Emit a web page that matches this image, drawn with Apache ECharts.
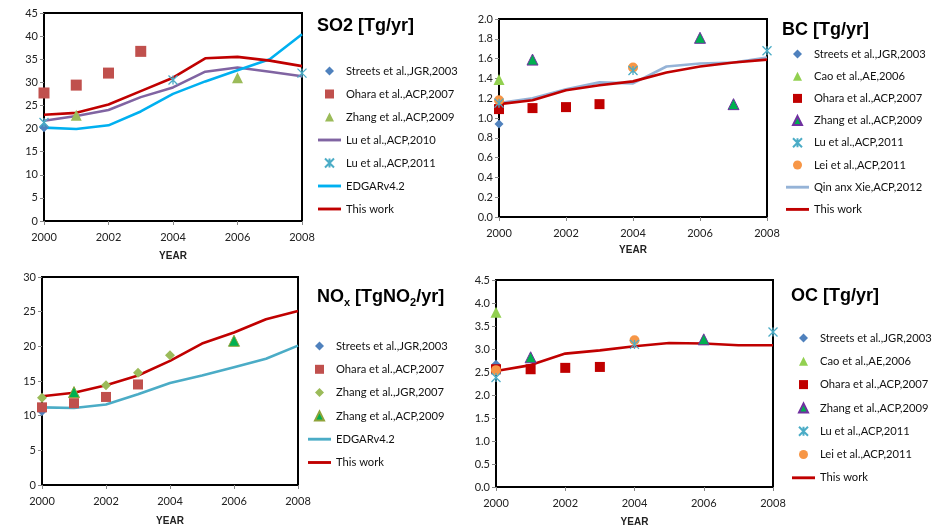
<!DOCTYPE html>
<html><head><meta charset="utf-8">
<script src="https://cdn.jsdelivr.net/npm/echarts@6/dist/echarts.min.js"></script>
<style>html,body{margin:0;padding:0;background:#fff}#c{width:937px;height:528px}</style>
</head><body><div id="c"></div>
<script>
// ---------- data ----------
const years = [2000, 2001, 2002, 2003, 2004, 2005, 2006, 2007, 2008];
const xTicks = [2000, 2002, 2004, 2006, 2008];

// SO2 [Tg/yr]
const so2Streets  = [20.3, null, null, null, null, null, null, null, null];
const so2Ohara    = [27.7, 29.4, 32.0, 36.7, null, null, null, null, null];
const so2Zhang    = [null, 22.9, null, null, null, null, 31.0, null, null];
const so2Lu2010   = [21.7, 22.7, 24.0, 26.8, 28.9, 32.3, 33.2, 32.3, 31.3];
const so2Lu2011   = [21.3, null, null, null, 30.5, null, null, null, 32.0];
const so2Edgar    = [20.2, 19.9, 20.7, 23.7, 27.5, 30.2, 32.6, 35.0, 40.4];
const so2ThisWork = [23.0, 23.4, 25.2, 28.1, 31.0, 35.2, 35.5, 34.7, 33.5];

// BC [Tg/yr]
const bcStreets  = [0.94, null, null, null, null, null, null, null, null];
const bcCao      = [1.39, null, null, null, null, null, null, null, null];
const bcOhara    = [1.09, 1.10, 1.11, 1.14, null, null, null, null, null];
const bcZhang    = [null, 1.59, null, null, null, null, 1.81, 1.14, null];
const bcLu2011   = [1.15, null, null, null, 1.48, null, null, null, 1.68];
const bcLei      = [1.18, null, null, null, 1.51, null, null, null, null];
const bcQin      = [1.15, 1.20, 1.29, 1.36, 1.35, 1.52, 1.55, 1.56, 1.61];
const bcThisWork = [1.14, 1.18, 1.28, 1.33, 1.37, 1.46, 1.52, 1.56, 1.59];

// NOx [TgNO2/yr]
const noxStreets  = [10.6, null, null, null, null, null, null, null, null];
const noxOhara    = [11.2, 11.8, 12.7, 14.5, null, null, null, null, null];
const noxZhangJGR = [12.6, null, 14.4, 16.2, 18.7, null, null, null, null];
const noxZhangACP = [null, 13.4, null, null, null, null, 20.8, null, null];
const noxEdgar    = [11.2, 11.1, 11.6, 13.1, 14.7, 15.8, 17.0, 18.2, 20.1];
const noxThisWork = [12.8, 13.3, 14.4, 15.8, 17.9, 20.4, 22.0, 23.9, 25.1];

// OC [Tg/yr]
const ocStreets  = [2.67, null, null, null, null, null, null, null, null];
const ocCao      = [3.80, null, null, null, null, null, null, null, null];
const ocOhara    = [2.56, 2.56, 2.59, 2.61, null, null, null, null, null];
const ocZhang    = [null, 2.82, null, null, null, null, 3.21, null, null];
const ocLu2011   = [2.38, null, null, null, 3.10, null, null, null, 3.37];
const ocLei      = [2.54, null, null, null, 3.19, null, null, null, null];
const ocThisWork = [2.52, 2.65, 2.90, 2.97, 3.06, 3.13, 3.12, 3.08, 3.08];

// ---------- helpers ----------
const FONT = 'Lato';
const STAR = 'path://M0 0L10 10M10 0L0 10M5 0L5 10';
const LINE_ICON = 'path://M0 0H24V3H0Z';
const ICONS = {
  diamond: 'path://M5 0L10 5L5 10L0 5Z',
  triangle: 'path://M5 0L10 10L0 10Z',
  rect: 'path://M0 0H10V10H0Z',
  circle: 'circle'
};
function pts(v) { return years.map((y, i) => v[i] == null ? null : [y, v[i]]).filter(Boolean); }

function sc(name, gi, vals, symbol, size, color, border) {
  const s = {
    name: name, type: 'scatter', xAxisIndex: gi, yAxisIndex: gi, data: pts(vals),
    symbol: symbol, symbolSize: size, symbolKeepAspect: true, clip: false, z: 5,
    itemStyle: { color: color, opacity: 1 }
  };
  if (border) { s.itemStyle.borderColor = border; s.itemStyle.borderWidth = 1; }
  return s;
}
function star(name, gi, vals, color) {
  return {
    name: name, type: 'scatter', xAxisIndex: gi, yAxisIndex: gi, data: pts(vals),
    symbol: STAR, symbolSize: 9, symbolKeepAspect: true, clip: false, z: 6,
    itemStyle: { color: 'rgba(0,0,0,0)', borderColor: color, borderWidth: 1.3, opacity: 1 }
  };
}
function ln(name, gi, vals, color) {
  return {
    name: name, type: 'line', xAxisIndex: gi, yAxisIndex: gi, data: pts(vals),
    symbol: 'none', clip: false, z: 3, lineStyle: { color: color, width: 2.6 }, itemStyle: { color: color }
  };
}

const grids = [
  { left: 44, top: 13, width: 258, height: 208 },
  { left: 499, top: 19, width: 268, height: 198 },
  { left: 42, top: 277, width: 256, height: 208 },
  { left: 496, top: 280, width: 277, height: 208 }
].map(g => Object.assign(g, { show: true, borderColor: '#000', borderWidth: 2, containLabel: false }));

const yRanges = [
  { max: 45, interval: 5, dec: 0 },
  { max: 2.0, interval: 0.2, dec: 1 },
  { max: 30, interval: 5, dec: 0 },
  { max: 4.5, interval: 0.5, dec: 1 }
];
const nameGaps = [30, 28, 31, 30];

const xAxes = grids.map((g, i) => ({
  type: 'value', gridIndex: i, min: 2000, max: 2008, interval: 2,
  axisLine: { show: true, lineStyle: { color: '#000', width: 2 } },
  axisTick: { show: true, length: 4, lineStyle: { color: '#888' } },
  splitLine: { show: false },
  axisLabel: { margin: 11, color: '#222', fontSize: 11, fontFamily: FONT, formatter: v => String(v) },
  name: 'YEAR', nameLocation: 'middle', nameGap: nameGaps[i],
  nameTextStyle: { fontWeight: 'bold', fontSize: 10, color: '#222', fontFamily: 'Liberation Sans' }
}));
const yAxes = grids.map((g, i) => ({
  type: 'value', gridIndex: i, min: 0, max: yRanges[i].max, interval: yRanges[i].interval,
  axisLine: { show: true, lineStyle: { color: '#000', width: 2 } },
  axisTick: { show: true, length: 4, lineStyle: { color: '#888' } },
  splitLine: { show: false },
  axisLabel: { margin: 6, color: '#222', fontSize: 11, fontFamily: FONT, formatter: v => v.toFixed(yRanges[i].dec) }
}));

const series = [
  // SO2
  sc('Streets et al.,JGR,2003#0', 0, so2Streets, 'diamond', 10, '#4F81BD'),
  sc('Ohara et al.,ACP,2007#0', 0, so2Ohara, 'rect', 11, '#C0504D'),
  sc('Zhang et al.,ACP,2009#0', 0, so2Zhang, 'triangle', 11, '#9BBB59'),
  ln('Lu et al.,ACP,2010#0', 0, so2Lu2010, '#8064A2'),
  star('Lu et al.,ACP,2011#0', 0, so2Lu2011, '#4BACC6'),
  ln('EDGARv4.2#0', 0, so2Edgar, '#00B0F0'),
  ln('This work#0', 0, so2ThisWork, '#C00000'),
  // BC
  sc('Streets et al.,JGR,2003#1', 1, bcStreets, 'diamond', 9, '#4F81BD'),
  sc('Cao et al.,AE,2006#1', 1, bcCao, 'triangle', 11, '#92D050'),
  sc('Ohara et al.,ACP,2007#1', 1, bcOhara, 'rect', 10, '#C00000'),
  sc('Zhang et al.,ACP,2009#1', 1, bcZhang, 'triangle', 11, '#00B050', '#7030A0'),
  star('Lu et al.,ACP,2011#1', 1, bcLu2011, '#4BACC6'),
  sc('Lei et al.,ACP,2011#1', 1, bcLei, 'circle', 10, '#F79646'),
  ln('Qin anx Xie,ACP,2012#1', 1, bcQin, '#95B3D7'),
  ln('This work#1', 1, bcThisWork, '#C00000'),
  // NOx
  sc('Streets et al.,JGR,2003#2', 2, noxStreets, 'diamond', 9, '#4F81BD'),
  sc('Ohara et al.,ACP,2007#2', 2, noxOhara, 'rect', 10, '#C0504D'),
  sc('Zhang et al.,JGR,2007#2', 2, noxZhangJGR, 'diamond', 10, '#9BBB59'),
  sc('Zhang et al.,ACP,2009#2', 2, noxZhangACP, 'triangle', 11, '#00B050', '#8FA33A'),
  ln('EDGARv4.2#2', 2, noxEdgar, '#4BACC6'),
  ln('This work#2', 2, noxThisWork, '#C00000'),
  // OC
  sc('Streets et al.,JGR,2003#3', 3, ocStreets, 'diamond', 9, '#4F81BD'),
  sc('Cao et al.,AE,2006#3', 3, ocCao, 'triangle', 11, '#92D050'),
  sc('Ohara et al.,ACP,2007#3', 3, ocOhara, 'rect', 10, '#C00000'),
  sc('Zhang et al.,ACP,2009#3', 3, ocZhang, 'triangle', 11, '#00B050', '#7030A0'),
  star('Lu et al.,ACP,2011#3', 3, ocLu2011, '#4BACC6'),
  sc('Lei et al.,ACP,2011#3', 3, ocLei, 'circle', 10, '#F79646'),
  ln('This work#3', 3, ocThisWork, '#C00000')
];

function legendIcon(s) {
  if (s.type === 'line') return LINE_ICON;
  return ICONS[s.symbol] || s.symbol;
}

const legendPos = [
  { left: 318, top: 65, itemGap: 11 },
  { left: 786, top: 48, itemGap: 10.2 },
  { left: 308, top: 340, itemGap: 11.3 },
  { left: 792, top: 332, itemGap: 11.3 }
];
const legends = legendPos.map((p, i) => ({
  orient: 'vertical', left: p.left, top: p.top, itemGap: p.itemGap, padding: 0,
  itemWidth: 23, itemHeight: 9, selectedMode: false, symbolKeepAspect: true,
  data: series.filter(s => s.name.endsWith('#' + i)).map(s => ({ name: s.name, icon: legendIcon(s) })),
  formatter: n => n.split('#')[0],
  textStyle: { fontFamily: FONT, fontSize: 11.2, lineHeight: 12, color: '#111' }
}));

const tStyle = { fontFamily: 'Liberation Sans', fontSize: 18, fontWeight: 'bold', color: '#000' };
const titles = [
  { text: 'SO2 [Tg/yr]', left: 317, top: 17, padding: 0, textStyle: tStyle },
  { text: 'BC [Tg/yr]', left: 782, top: 21, padding: 0, textStyle: tStyle },
  { text: '{a|NO}{s|x}{a| [TgNO}{s|2}{a|/yr]}', left: 317, top: 286, padding: 0,
    textStyle: { rich: {
      a: { fontFamily: 'Liberation Sans', fontSize: 18, fontWeight: 'bold', color: '#000', lineHeight: 22, verticalAlign: 'middle' },
      s: { fontFamily: 'Liberation Sans', fontSize: 11, fontWeight: 'bold', color: '#000', lineHeight: 12, verticalAlign: 'bottom' }
    } } },
  { text: 'OC [Tg/yr]', left: 791, top: 287, padding: 0, textStyle: tStyle }
];

const chart = echarts.init(document.getElementById('c'), null, { renderer: 'canvas' });
chart.setOption({
  animation: false,
  backgroundColor: '#fff',
  title: titles,
  legend: legends,
  grid: grids,
  xAxis: xAxes,
  yAxis: yAxes,
  series: series
});
</script></body></html>
